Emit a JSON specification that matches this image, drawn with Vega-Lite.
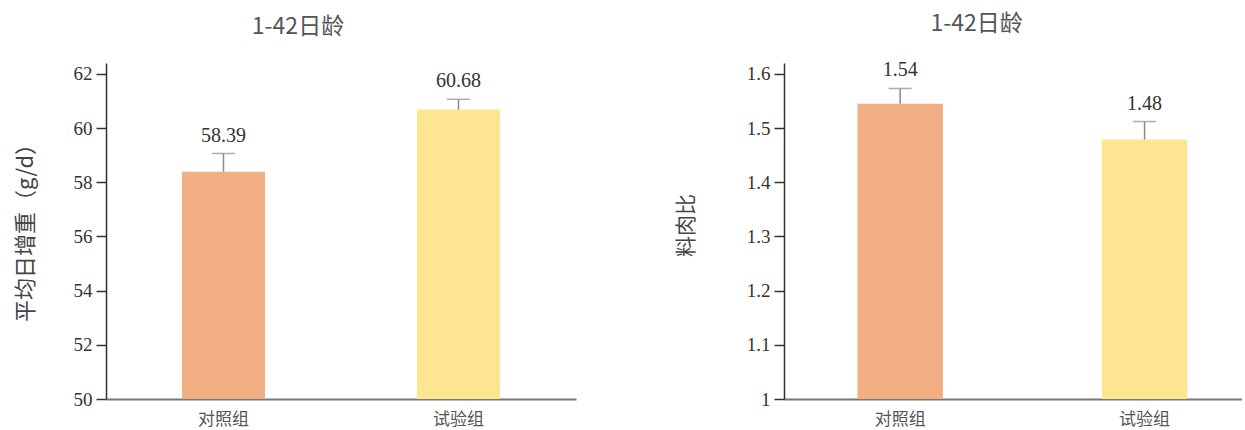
{
  "$schema": "https://vega.github.io/schema/vega-lite/v6.json",
  "background": "white",
  "padding": {"left": 14, "top": 13, "right": 0, "bottom": 0},
  "spacing": 99,
  "config": {
    "view": {"stroke": null},
    "title": {"fontSize": 23, "font": "Noto Sans CJK SC", "fontWeight": "normal", "color": "#555", "anchor": "middle", "frame": "bounds", "offset": 24},
    "axisY": {"domainColor": "#333", "domainWidth": 1.5, "tickColor": "#333", "tickSize": 10, "tickWidth": 1.5, "labelFont": "Liberation Serif", "labelFontSize": 19, "labelColor": "#333", "labelPadding": 4, "titleFont": "Noto Sans CJK SC", "titleFontSize": 21, "titleFontWeight": "normal", "titleColor": "#444", "grid": false},
    "axisX": {"labelAngle": 0, "ticks": false, "domainColor": "#777", "domainWidth": 2, "labelFontSize": 17, "labelColor": "#555", "labelPadding": 12, "labelFont": "Noto Sans CJK SC", "title": null, "grid": false}
  },
  "hconcat": [
    {
      "title": {"text": "1-42日龄", "dx": 3},
      "width": 470,
      "height": 336,
      "data": {"values": [
        {"group": "对照组", "mean": 58.39, "upper": 59.06, "base": 50, "label": "58.39"},
        {"group": "试验组", "mean": 60.68, "upper": 61.06, "base": 50, "label": "60.68"}
      ]},
      "encoding": {
        "x": {"field": "group", "type": "nominal", "sort": null, "scale": {"paddingInner": 0.647, "paddingOuter": 0.3235}, "axis": {"title": null}}
      },
      "layer": [
        {
          "mark": {"type": "bar"},
          "encoding": {
            "y": {"field": "mean", "type": "quantitative", "scale": {"domain": [50, 62.4], "nice": false, "zero": false}, "axis": {"title": "平均日增重（g/d）", "values": [50, 52, 54, 56, 58, 60, 62], "titlePadding": 36, "titleFontSize": 22, "titleY": 164}},
            "y2": {"field": "base"},
            "color": {"field": "group", "type": "nominal", "scale": {"domain": ["对照组", "试验组"], "range": ["#F2AF83", "#FEE592"]}, "legend": null}
          }
        },
        {
          "mark": {"type": "rule", "color": "#8a8a8a", "strokeWidth": 1.5},
          "encoding": {"y": {"field": "mean", "type": "quantitative"}, "y2": {"field": "upper"}}
        },
        {
          "mark": {"type": "tick", "color": "#8a8a8a", "thickness": 1.5, "size": 23},
          "encoding": {"y": {"field": "upper", "type": "quantitative"}}
        },
        {
          "mark": {"type": "text", "font": "Liberation Serif", "fontSize": 20, "color": "#333", "baseline": "bottom", "dy": -8},
          "encoding": {"y": {"field": "upper", "type": "quantitative"}, "text": {"field": "label"}}
        }
      ]
    },
    {
      "title": {"text": "1-42日龄", "dx": 18},
      "width": 458,
      "height": 336,
      "data": {"values": [
        {"group": "对照组", "mean": 1.545, "upper": 1.573, "base": 1, "label": "1.54"},
        {"group": "试验组", "mean": 1.479, "upper": 1.512, "base": 1, "label": "1.48"}
      ]},
      "encoding": {
        "x": {"field": "group", "type": "nominal", "sort": null, "scale": {"paddingInner": 0.65, "paddingOuter": 0.262, "align": 0.573}, "axis": {"title": null}}
      },
      "layer": [
        {
          "mark": {"type": "bar"},
          "encoding": {
            "y": {"field": "mean", "type": "quantitative", "scale": {"domain": [1, 1.62], "nice": false, "zero": false}, "axis": {"title": "料肉比", "values": [1, 1.1, 1.2, 1.3, 1.4, 1.5, 1.6], "format": ".1~f", "titlePadding": 50, "titleY": 162}},
            "y2": {"field": "base"},
            "color": {"field": "group", "type": "nominal", "scale": {"domain": ["对照组", "试验组"], "range": ["#F2AF83", "#FEE592"]}, "legend": null}
          }
        },
        {
          "mark": {"type": "rule", "color": "#8a8a8a", "strokeWidth": 1.5},
          "encoding": {"y": {"field": "mean", "type": "quantitative"}, "y2": {"field": "upper"}}
        },
        {
          "mark": {"type": "tick", "color": "#8a8a8a", "thickness": 1.5, "size": 23},
          "encoding": {"y": {"field": "upper", "type": "quantitative"}}
        },
        {
          "mark": {"type": "text", "font": "Liberation Serif", "fontSize": 20, "color": "#333", "baseline": "bottom", "dy": -8},
          "encoding": {"y": {"field": "upper", "type": "quantitative"}, "text": {"field": "label"}}
        }
      ]
    }
  ]
}
